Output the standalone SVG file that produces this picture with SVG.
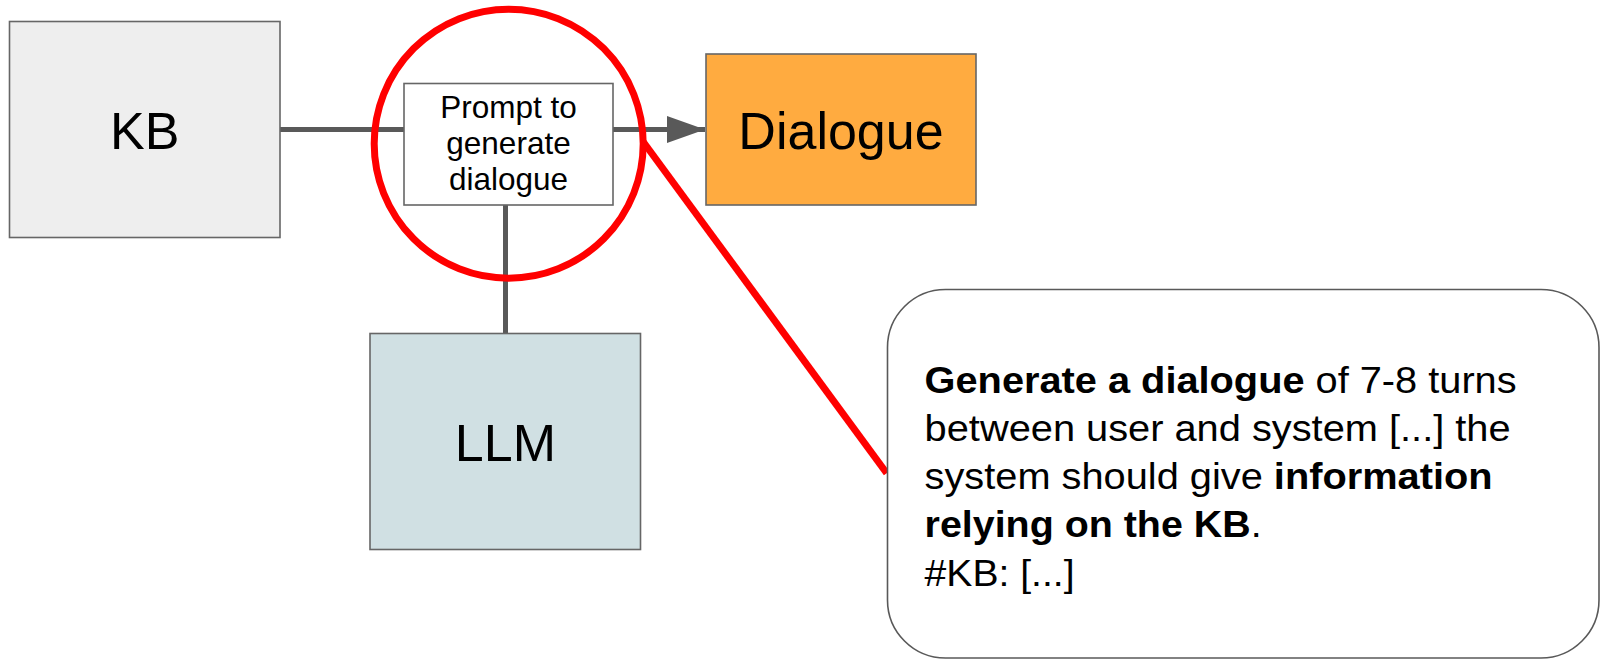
<svg xmlns="http://www.w3.org/2000/svg" width="1600" height="659" viewBox="0 0 1600 659">
  <defs>
    <style>
      .box { stroke: #666666; stroke-width: 1.6; }
      .lbl { font-family: "Liberation Sans", Arial, sans-serif; fill: #000000; text-anchor: middle; }
      .big { font-size: 52px; }
      .small { font-size: 31.5px; }
      .conn { stroke: #595959; stroke-width: 5; fill: none; }
      .red { stroke: #ff0000; stroke-width: 7; fill: none; }
      .note { font-family: "Liberation Sans", Arial, sans-serif; font-size: 36px; fill: #000000; }
      .b { font-weight: bold; }
    </style>
    <marker id="arrow" markerUnits="userSpaceOnUse" markerWidth="40" markerHeight="30" refX="38" refY="13.5" orient="auto">
      <path d="M0,0 L38,13.5 L0,27 Z" fill="#595959"/>
    </marker>
  </defs>

  <g id="connectors">
    <line class="conn" x1="280" y1="129.5" x2="404" y2="129.5"/>
    <line class="conn" x1="613" y1="129.5" x2="705" y2="129.5" marker-end="url(#arrow)"/>
    <line class="conn" x1="505.5" y1="205" x2="505.5" y2="333"/>
  </g>

  <g id="kb">
    <rect class="box" x="9.5" y="21.5" width="270.5" height="216" fill="#eeeeee"/>
    <text class="lbl big" x="144.7" y="149">KB</text>
  </g>

  <g id="prompt">
    <rect class="box" x="404" y="83.5" width="209" height="121.5" fill="#ffffff"/>
    <text class="lbl small" x="508.5" y="117.7">Prompt to</text>
    <text class="lbl small" x="508.5" y="154">generate</text>
    <text class="lbl small" x="508.5" y="190.3">dialogue</text>
  </g>

  <g id="dialogue">
    <rect class="box" x="706" y="54" width="270" height="151" fill="#ffab40"/>
    <text class="lbl big" x="841" y="149.3">Dialogue</text>
  </g>

  <g id="llm">
    <rect class="box" x="370" y="333.5" width="270.5" height="216" fill="#d0e0e3"/>
    <text class="lbl big" x="505.4" y="460.7">LLM</text>
  </g>

  <g id="highlight">
    <circle class="red" cx="508.7" cy="143.7" r="134.5"/>
    <line class="red" x1="643" y1="141.5" x2="886.7" y2="473.3"/>
  </g>

  <g id="callout">
    <rect x="887.5" y="289.5" width="711.5" height="368.5" rx="58" ry="58" fill="#ffffff" stroke="#595959" stroke-width="1.6"/>
    <text class="note" x="924.6" y="392.5" textLength="592" lengthAdjust="spacingAndGlyphs"><tspan class="b">Generate a dialogue</tspan> of 7-8 turns</text>
    <text class="note" x="924.6" y="440.8" textLength="586" lengthAdjust="spacingAndGlyphs">between user and system [...] the</text>
    <text class="note" x="924.6" y="489" textLength="568" lengthAdjust="spacingAndGlyphs">system should give <tspan class="b">information</tspan></text>
    <text class="note" x="924.6" y="537.3" textLength="337" lengthAdjust="spacingAndGlyphs"><tspan class="b">relying on the KB</tspan>.</text>
    <text class="note" x="924.6" y="585.5" textLength="150" lengthAdjust="spacingAndGlyphs">#KB: [...]</text>
  </g>
</svg>
